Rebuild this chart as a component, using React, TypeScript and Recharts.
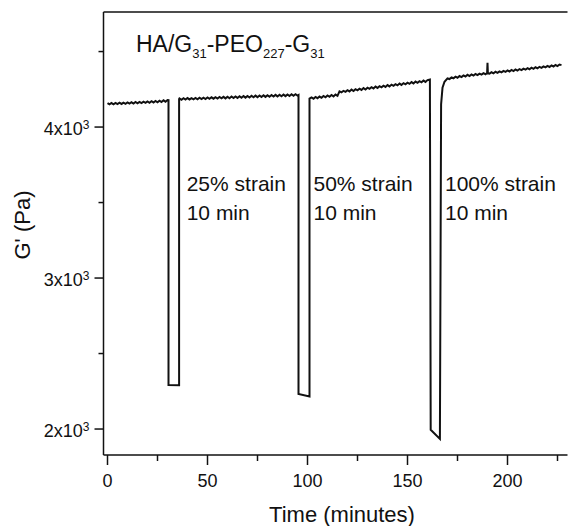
import React from 'react';
import { LineChart, Line, XAxis, YAxis, ReferenceLine } from 'recharts';

// G' (Pa) versus time (minutes): [time, G']
const RECOVERY_1: [number, number][] = [
  [0, 4158], [1, 4150], [2, 4159], [3, 4151], [4, 4160], [5, 4152], [6, 4161], [7, 4153],
  [8, 4162], [9, 4154], [10, 4163], [11, 4155], [12, 4164], [13, 4156], [14, 4166], [15, 4157],
  [16, 4167], [17, 4159], [18, 4168], [19, 4160], [20, 4170], [21, 4161], [22, 4171], [23, 4163],
  [24, 4173], [25, 4164], [26, 4175], [27, 4166], [28, 4177], [29, 4168], [30, 4179], [30.5, 4178],
];
const STRAIN_25: [number, number][] = [[30.5, 2292], [35.8, 2290]];
const RECOVERY_2: [number, number][] = [
  [35.8, 4185], [36, 4190], [37, 4181], [38, 4191], [39, 4182], [40, 4192], [41, 4183], [42, 4192],
  [43, 4184], [44, 4193], [45, 4184], [46, 4194], [47, 4185], [48, 4195], [49, 4186], [50, 4196],
  [51, 4187], [52, 4197], [53, 4188], [54, 4198], [55, 4189], [56, 4199], [57, 4190], [58, 4200],
  [59, 4190], [60, 4201], [61, 4191], [62, 4202], [63, 4192], [64, 4203], [65, 4193], [66, 4204],
  [67, 4194], [68, 4205], [69, 4195], [70, 4206], [71, 4196], [72, 4207], [73, 4197], [74, 4208],
  [75, 4198], [76, 4209], [77, 4199], [78, 4210], [79, 4200], [80, 4211], [81, 4201], [82, 4212],
  [83, 4202], [84, 4213], [85, 4203], [86, 4214], [87, 4204], [88, 4215], [89, 4205], [90, 4216],
  [91, 4206], [92, 4217], [93, 4207], [94, 4217], [95, 4208], [95.5, 4212],
];
const STRAIN_50: [number, number][] = [[95.5, 2232], [101, 2216]];
const RECOVERY_3: [number, number][] = [
  [101, 4188], [102, 4196], [103, 4188], [104, 4199], [105, 4191], [106, 4202], [107, 4194],
  [108, 4206], [109, 4197], [110, 4209], [111, 4200], [112, 4212], [113, 4203], [114, 4215],
  [115, 4207], [116, 4236], [117, 4230], [118, 4240], [119, 4233], [120, 4244], [121, 4236],
  [122, 4248], [123, 4239], [124, 4251], [125, 4243], [126, 4254], [127, 4246], [128, 4258],
  [129, 4249], [130, 4261], [131, 4253], [132, 4264], [133, 4256], [134, 4268], [135, 4259],
  [136, 4271], [137, 4263], [138, 4274], [139, 4266], [140, 4278], [141, 4269], [142, 4281],
  [143, 4273], [144, 4284], [145, 4276], [146, 4288], [147, 4279], [148, 4291], [149, 4283],
  [150, 4294], [151, 4286], [152, 4298], [153, 4289], [154, 4301], [155, 4293], [156, 4304],
  [157, 4296], [158, 4308], [159, 4299], [160, 4311], [161.2, 4315],
];
const STRAIN_100: [number, number][] = [[161.6, 1995], [166.2, 1935]];
const RECOVERY_4: [number, number][] = [
  [166.8, 4150], [167.5, 4260], [168.5, 4300], [170, 4322], [171, 4318], [172, 4329], [173, 4323],
  [174, 4334], [175, 4327], [176, 4338], [177, 4331], [178, 4342], [179, 4335], [180, 4346],
  [181, 4338], [182, 4349], [183, 4341], [184, 4351], [185, 4344], [186, 4354], [187, 4347],
  [188, 4357], [189, 4350], [189.8, 4358], [190, 4425], [190.2, 4356], [191, 4354], [192, 4363],
  [193, 4356], [194, 4366], [195, 4359], [196, 4369], [197, 4362], [198, 4372], [199, 4365],
  [200, 4375], [201, 4368], [202, 4378], [203, 4371], [204, 4381], [205, 4374], [206, 4384],
  [207, 4377], [208, 4387], [209, 4380], [210, 4390], [211, 4383], [212, 4393], [213, 4386],
  [214, 4396], [215, 4389], [216, 4399], [217, 4392], [218, 4402], [219, 4395], [220, 4405],
  [221, 4398], [222, 4408], [223, 4401], [224, 4411], [225, 4404], [226, 4414], [227, 4410],
];

const X_TICKS = [0, 25, 50, 75, 100, 125, 150, 175, 200, 225];
const Y_TICKS = [2000, 2500, 3000, 3500, 4000, 4500];
const X_DOMAIN: [number, number] = [-2, 230];
const Y_DOMAIN: [number, number] = [1828, 4762];

const TITLE_PARTS: [string, boolean][] = [
  ['HA/G', false], ['31', true], ['-PEO', false], ['227', true], ['-G', false], ['31', true],
];
const ANNOTATIONS = [
  ['25% strain', '10 min'],
  ['50% strain', '10 min'],
  ['100% strain', '10 min'],
];
const X_TITLE = 'Time (minutes)';
const Y_TITLE = "G' (Pa)";

const FONT = '"Liberation Sans", Arial, Helvetica, sans-serif';

const data = [
  ...RECOVERY_1, ...STRAIN_25, ...RECOVERY_2, ...STRAIN_50,
  ...RECOVERY_3, ...STRAIN_100, ...RECOVERY_4,
].map(([t, g]) => ({ t, g }));

const XTick = (props: any) => {
  const { x, y, payload } = props;
  const major = payload.value % 50 === 0;
  return (
    <g>
      <line x1={x} x2={x} y1={y} y2={y + (major ? 10 : 6)} stroke="#111" strokeWidth={1.5} />
      {major && (
        <text x={x} y={y + 31.5} textAnchor="middle" fontSize={18} fill="#111" fontFamily={FONT}>
          {payload.value}
        </text>
      )}
    </g>
  );
};

const YTick = (props: any) => {
  const { x, y, payload } = props;
  const major = payload.value % 1000 === 0;
  return (
    <g>
      <line x1={x - (major ? 9 : 5)} x2={x} y1={y} y2={y} stroke="#111" strokeWidth={1.5} />
      {major && (
        <text x={x - 14} y={y + 8} textAnchor="end" fontSize={18} fill="#111" fontFamily={FONT}>
          {payload.value / 1000}x10
          <tspan dy={-6} fontSize={12}>3</tspan>
        </text>
      )}
    </g>
  );
};

const ANNOT_X = [186.7, 313.5, 445];

export default function App() {
  return (
    <div style={{ position: 'absolute', left: 0, top: 0, width: 568, height: 526, background: '#fff' }}>
      <LineChart
        width={568}
        height={526}
        data={data}
        margin={{ top: 12, right: 0.5, bottom: 41, left: 43.5 }}
      >
        <XAxis
          dataKey="t"
          type="number"
          domain={X_DOMAIN}
          allowDataOverflow
          ticks={X_TICKS}
          interval={0}
          tickSize={0}
          tickMargin={0}
          tickLine={false}
          tick={<XTick />}
          height={30}
          axisLine={{ stroke: '#111', strokeWidth: 1.5 }}
        />
        <YAxis
          type="number"
          domain={Y_DOMAIN}
          allowDataOverflow
          ticks={Y_TICKS}
          interval={0}
          tickSize={0}
          tickMargin={0}
          tickLine={false}
          tick={<YTick />}
          width={60}
          axisLine={{ stroke: '#111', strokeWidth: 1.5 }}
        />
        <ReferenceLine y={Y_DOMAIN[1]} stroke="#111" strokeWidth={1.5} />
        <Line
          dataKey="g"
          type="linear"
          stroke="#111"
          strokeWidth={2}
          dot={false}
          activeDot={false}
          isAnimationActive={false}
        />
      </LineChart>
      <svg
        width={568}
        height={526}
        style={{ position: 'absolute', left: 0, top: 0, pointerEvents: 'none' }}
      >
        <text x={136} y={51.7} fontSize={23} fill="#111" fontFamily={FONT}>
          {TITLE_PARTS.map(([s, sub], i) => {
            const prevSub = i > 0 && TITLE_PARTS[i - 1][1];
            const dy = sub ? 6.6 : prevSub ? -6.6 : 0;
            return (
              <tspan key={i} dy={dy} fontSize={sub ? 13 : 23}>
                {s}
              </tspan>
            );
          })}
        </text>
        {ANNOTATIONS.map(([l1, l2], i) => (
          <text key={i} fontSize={21} fill="#111" fontFamily={FONT}>
            <tspan x={ANNOT_X[i]} y={190.7}>{l1}</tspan>
            <tspan x={ANNOT_X[i]} y={220}>{l2}</tspan>
          </text>
        ))}
        <text x={342} y={521.5} textAnchor="middle" fontSize={22} fill="#111" fontFamily={FONT}>
          {X_TITLE}
        </text>
        <text
          x={30}
          y={225}
          textAnchor="middle"
          fontSize={22}
          fill="#111"
          fontFamily={FONT}
          transform="rotate(-90 30 225)"
        >
          {Y_TITLE}
        </text>
      </svg>
    </div>
  );
}
